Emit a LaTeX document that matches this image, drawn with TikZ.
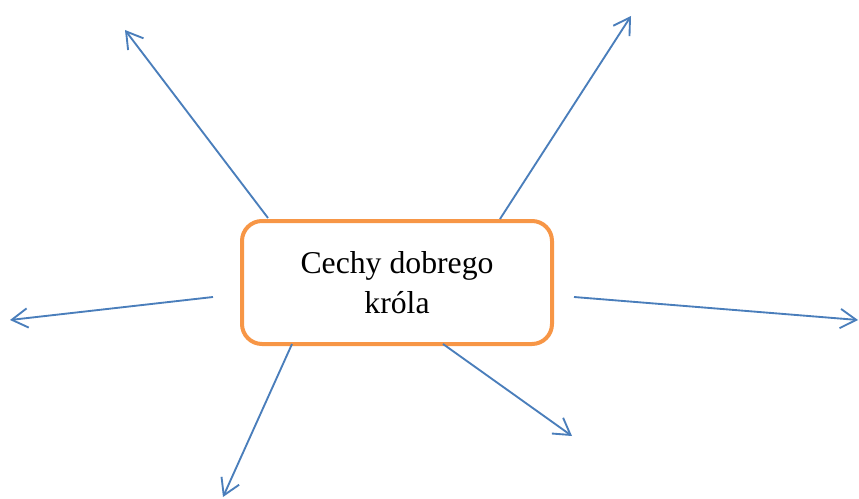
\documentclass[tikz,border=0pt]{standalone}
\usepackage{fontspec}
\setmainfont{Liberation Serif}
\usetikzlibrary{arrows.meta}
\definecolor{boxorange}{HTML}{F79646}
\definecolor{arrowblue}{HTML}{4A7EBB}
\tikzset{
  mainbox/.style={draw=boxorange, line width=3pt, rounded corners=15pt,
    minimum width=232.5pt, minimum height=92.25pt, inner sep=0pt,
    align=center, font=\fontsize{23.8}{30.5}\selectfont},
  ray/.style={draw=arrowblue, line width=1.4pt,
    -{Straight Barb[length=12pt,width=14.5pt]}}
}
\begin{document}
\begin{tikzpicture}[x=0.75pt,y=-0.75pt]
\useasboundingbox (0,0) rectangle (859,499);
\node[mainbox] (box) at (397,282.5) {Cechy dobrego\\króla};
\coordinate (s1) at (268,218);  \coordinate (t1) at (125,30);
\coordinate (s2) at (500,219);  \coordinate (t2) at (631,16);
\coordinate (s3) at (213,297);  \coordinate (t3) at (10,320);
\coordinate (s4) at (574,297);  \coordinate (t4) at (858,320);
\coordinate (s5) at (292,344);  \coordinate (t5) at (223,497);
\coordinate (s6) at (443,344);  \coordinate (t6) at (572,436);
\foreach \i in {1,...,6} \draw[ray] (s\i) -- (t\i);
\end{tikzpicture}
\end{document}
